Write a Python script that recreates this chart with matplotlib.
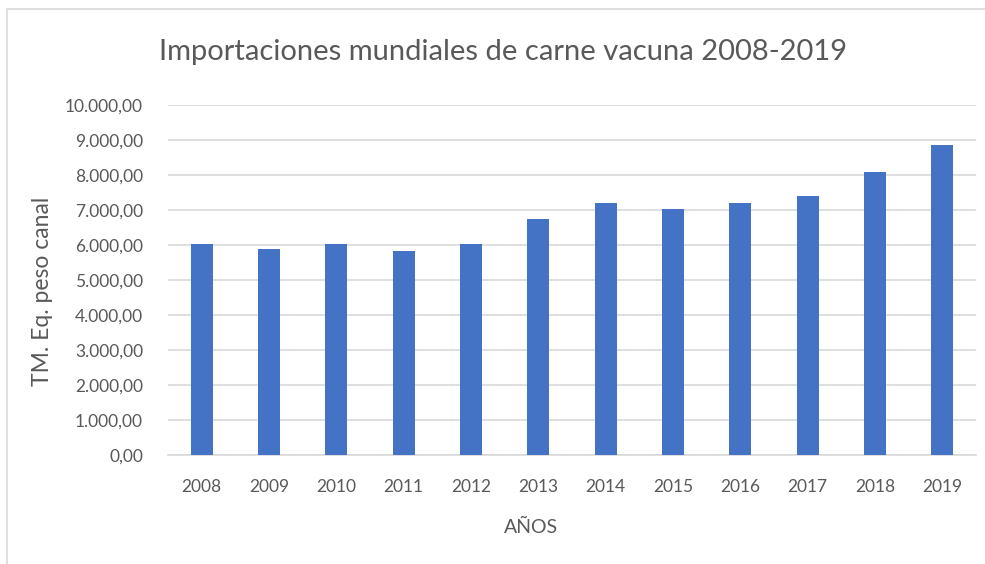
import matplotlib.pyplot as plt
from matplotlib.patches import Rectangle
from matplotlib.ticker import FuncFormatter

plt.rcParams['font.family'] = ['Lato', 'DejaVu Sans']

years = ["2008", "2009", "2010", "2011", "2012", "2013",
         "2014", "2015", "2016", "2017", "2018", "2019"]
imports = [6040, 5890, 6040, 5820, 6040, 6730,
           7190, 7030, 7190, 7400, 8100, 8850]
y_ticks = list(range(0, 10001, 1000))

text_color = "#595959"
bar_color = "#4472C4"

fig = plt.figure(figsize=(9.85, 5.64), dpi=100)
W, H = 985, 564

# chart border (cropped on right and bottom)
fig.patches.append(Rectangle((7 / W, -0.1), 1.1, 1 - 9 / H + 0.1,
                             transform=fig.transFigure, fill=False,
                             edgecolor="#D9D9D9", linewidth=1.2))

ax = fig.add_axes([168 / W, 1 - 455 / H, (976 - 168) / W, (455 - 105) / H])

x = range(len(years))
ax.bar(x, imports, width=0.33, color=bar_color, zorder=3)

ax.set_xlim(-0.5, len(years) - 0.5)
ax.set_ylim(0, 10000)
ax.set_yticks(y_ticks)

def es_format(v, pos):
    s = "{:,.2f}".format(v)
    return s.replace(",", "X").replace(".", ",").replace("X", ".")

ax.yaxis.set_major_formatter(FuncFormatter(es_format))
ax.set_xticks(list(x))
ax.set_xticklabels(years)

ax.grid(axis="y", color="#D9D9D9", linewidth=1.2, zorder=0)
for s in ["top", "right", "left"]:
    ax.spines[s].set_visible(False)
ax.spines["bottom"].set_color("#D9D9D9")
ax.spines["bottom"].set_linewidth(1.2)
ax.tick_params(axis="both", length=0, labelsize=12.5, colors=text_color)
ax.tick_params(axis="y", pad=18)
ax.tick_params(axis="x", pad=17)

fig.text(503 / W, 1 - 52 / H, "Importaciones mundiales de carne vacuna 2008-2019",
         fontsize=21, color=text_color, ha="center", va="center")
fig.text(531 / W, 1 - 527 / H, "AÑOS", fontsize=14, color=text_color,
         ha="center", va="center")
fig.text(43 / W, 1 - 291 / H, "TM. Eq. peso canal", fontsize=16.5,
         color=text_color, ha="center", va="center", rotation=90)

fig.savefig("out.png", dpi=100)
